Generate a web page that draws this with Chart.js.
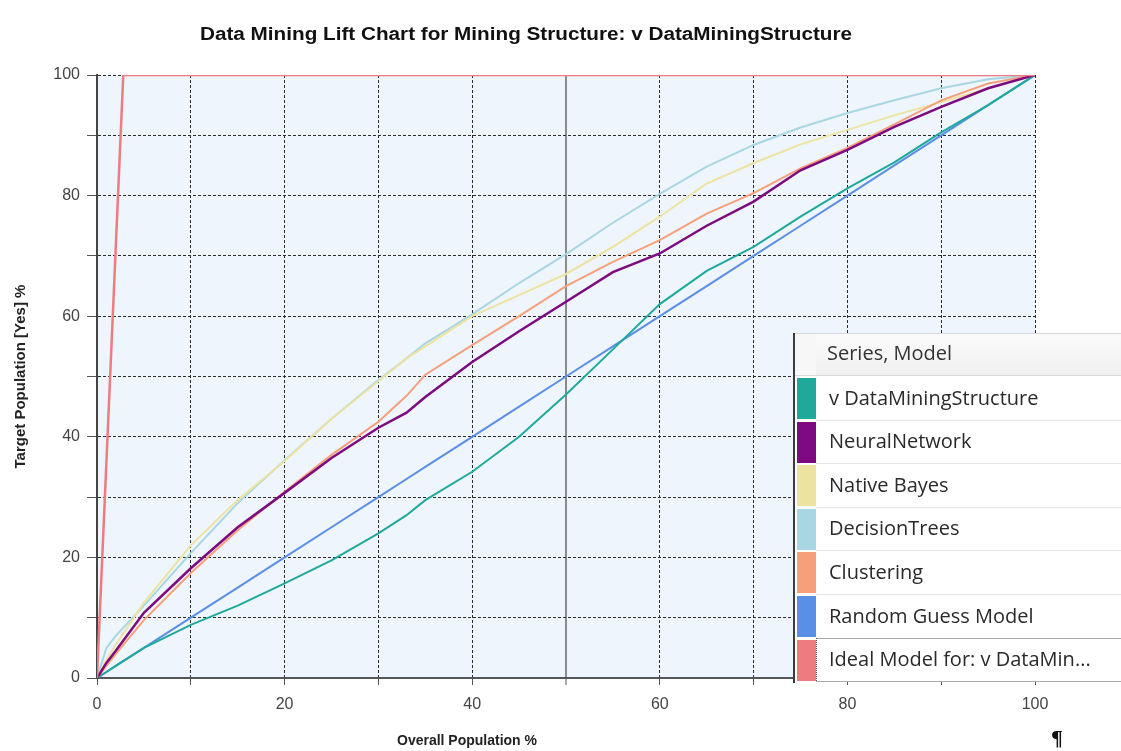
<!DOCTYPE html>
<html>
<head>
<meta charset="utf-8">
<script src="https://cdn.jsdelivr.net/npm/chart.js@4.4.1/dist/chart.umd.min.js"></script>
<style>
html,body{margin:0;padding:0;background:#fff;overflow:hidden}
#wrap{position:relative;width:1121px;height:751px}
canvas{display:block}
</style>
</head>
<body>
<div id="wrap"><canvas id="c" width="1121" height="751"></canvas></div>
<script>
const chartTitle = 'Data Mining Lift Chart for Mining Structure: v DataMiningStructure';
const xAxisTitle = 'Overall Population %';
const yAxisTitle = 'Target Population [Yes] %';
const legendHeader = 'Series, Model';
const pilcrow = '\u00B6';

const populationPct = [0,1,2,5,10,15,20,25,30,33,35,40,45,50,55,60,65,70,75,80,85,90,95,100];
const vDataMiningStructure = [0,1,2,5,8.8,12,15.7,19.5,24,27,29.5,34.2,40,47,54.5,62,67.5,71.5,76.5,81.2,85.5,90.5,95,100];
const neuralNetwork = [0,2.5,4.5,10.8,18.2,25,30.7,36.5,41.5,44,46.6,52.4,57.5,62.4,67.3,70.4,75,79,84.2,87.6,91.4,94.7,97.8,100];
const nativeBayes = [0,3,5.5,12.5,22,29.5,36,43,49.2,53,55,60,63.5,67,71.5,76.5,82,85.4,88.5,90.9,93.3,95.5,97.8,100];
const decisionTrees = [0,5,7,12,20.7,29,36.1,43,49.4,53,55.5,60.3,65.5,70.3,75.5,80.3,84.8,88.4,91.3,93.7,95.8,97.8,99.3,100];
const clustering = [0,2,4,9.6,17.4,24.5,30.9,37,42.5,46.8,50.3,55.2,60,65,69,72.6,77,80.4,84.5,87.9,91.8,95.8,98.6,100];
const randomGuess = [0,1,2,5,10,15,20,25,30,33,35,40,45,50,55,60,65,70,75,80,85,90,95,100];
const idealX = [0,2.8,100];
const idealY = [0,100,100];

const seriesLabels = ['v DataMiningStructure','NeuralNetwork','Native Bayes','DecisionTrees','Clustering','Random Guess Model','Ideal Model for: v DataMin...'];
const seriesColors = ['#1fa99b','#7d0a80','#ede3a0','#a9d6e3','#f5a07b','#5a8fe6','#ee7b7f'];

function pts(xs, ys){ return xs.map((x,i)=>({x:x,y:ys[i]})); }

const seriesData = [
  pts(populationPct, vDataMiningStructure),
  pts(populationPct, neuralNetwork),
  pts(populationPct, nativeBayes),
  pts(populationPct, decisionTrees),
  pts(populationPct, clustering),
  pts(populationPct, randomGuess),
  pts(idealX, idealY)
];
const drawOrder = [2,1,5,6,3,4,0];
const widths = [2,2.5,2,2,2,2,2.5];

const datasets = seriesLabels.map((lab,i)=>({
  label: lab,
  data: seriesData[i],
  borderColor: seriesColors[i],
  backgroundColor: seriesColors[i],
  borderWidth: widths[i],
  pointRadius: 0,
  tension: 0,
  fill: false,
  order: drawOrder[i]
}));

const gridDash = (ctx) => {
  if (ctx.type !== 'tick') return [];
  if (ctx.scale.axis === 'x' && ctx.tick && ctx.tick.value === 50) return [];
  return [3,2];
};

const bgPlugin = {
  id: 'plotBg',
  beforeDraw(chart){
    const {ctx, chartArea:a} = chart;
    ctx.save();
    ctx.fillStyle = '#eff5fd';
    ctx.fillRect(a.left, a.top, a.right-a.left, a.bottom-a.top);
    ctx.restore();
  }
};

function fitText(ctx, text, cx, cy, targetW){
  const w = ctx.measureText(text).width;
  const sx = targetW / w;
  ctx.save();
  ctx.translate(cx, cy);
  ctx.scale(sx, 1);
  ctx.fillText(text, 0, 0);
  ctx.restore();
}

const decorPlugin = {
  id: 'decor',
  afterDraw(chart){
    const ctx = chart.ctx;
    ctx.save();
    // title
    ctx.fillStyle = '#111';
    ctx.textAlign = 'center';
    ctx.textBaseline = 'middle';
    ctx.font = 'bold 18px "Liberation Sans", Arial, sans-serif';
    fitText(ctx, chartTitle, 526, 35, 652);
    // x axis title
    ctx.font = 'bold 14px "Liberation Sans", Arial, sans-serif';
    ctx.fillStyle = '#222';
    ctx.fillText(xAxisTitle, 467, 741);
    // pilcrow
    ctx.font = 'bold 22px "Liberation Serif", serif';
    ctx.fillStyle = '#111';
    ctx.fillText(pilcrow, 1057, 739);

    // legend panel
    const L = 793, T = 333, R = 1121, B = 682;
    ctx.fillStyle = '#ffffff';
    ctx.fillRect(L, T, R-L, B-T);
    const hdrB = 375;
    const g = ctx.createLinearGradient(0, T, 0, hdrB);
    g.addColorStop(0, '#fbfbfb');
    g.addColorStop(1, '#f0f0f0');
    ctx.fillStyle = g;
    ctx.fillRect(816, T, R-816, hdrB-T);
    ctx.fillStyle = '#f7f7f7';
    ctx.fillRect(L+1, T, 816-L-1, hdrB-T);
    ctx.strokeStyle = '#d8d8d8';
    ctx.lineWidth = 1;
    ctx.beginPath();
    ctx.moveTo(L, T+0.5); ctx.lineTo(R, T+0.5);
    ctx.moveTo(L, hdrB+0.5); ctx.lineTo(R, hdrB+0.5);
    ctx.stroke();
    ctx.textAlign = 'left';
    ctx.fillStyle = '#333';
    ctx.font = '20px "Open Sans", "Noto Sans", sans-serif';
    ctx.fillText(legendHeader, 827, 354);

    const rowTop = 377, rowH = 43.6;
    chart.data.datasets.forEach((ds, i) => {
      const top = rowTop + i*rowH;
      ctx.fillStyle = ds.borderColor;
      ctx.fillRect(797, Math.round(top)+1, 19, Math.round(rowH)-3);
      ctx.fillStyle = '#2a2a2a';
      ctx.font = '20px "Open Sans", "Noto Sans", sans-serif';
      ctx.fillText(ds.label, 829, top + rowH/2);
      if (i < chart.data.datasets.length-2) {
        ctx.strokeStyle = '#e4e4e4';
        ctx.beginPath();
        ctx.moveTo(816, Math.round(top+rowH)-0.5); ctx.lineTo(R, Math.round(top+rowH)-0.5);
        ctx.stroke();
      }
    });
    const lt = Math.round(rowTop + 6*rowH) - 1;
    ctx.strokeStyle = '#555';
    ctx.setLineDash([1,1]);
    ctx.beginPath();
    ctx.moveTo(816.5, lt+0.5); ctx.lineTo(R, lt+0.5);
    ctx.moveTo(816.5, lt); ctx.lineTo(816.5, B-0.5);
    ctx.moveTo(816.5, B-0.5); ctx.lineTo(R, B-0.5);
    ctx.stroke();
    ctx.setLineDash([]);
    ctx.strokeStyle = '#3c3c3c';
    ctx.lineWidth = 2;
    ctx.beginPath();
    ctx.moveTo(L+1, T); ctx.lineTo(L+1, B+1);
    ctx.stroke();
    ctx.restore();
  }
};

new Chart(document.getElementById('c'), {
  type: 'line',
  data: { datasets },
  plugins: [bgPlugin, decorPlugin],
  options: {
    responsive: false,
    animation: false,
    events: [],
    layout: { padding: { top: 75, right: 86, bottom: 0, left: 0 } },
    plugins: { legend: { display: false }, title: { display: false }, tooltip: { enabled: false } },
    scales: {
      x: {
        type: 'linear', min: 0, max: 100,
        afterFit(s){ s.height = 73; },
        ticks: {
          stepSize: 10, autoSkip: false, maxRotation: 0,
          callback: v => (v % 20 === 0 ? String(v) : ''),
          color: '#444', font: { size: 16, family: '"Liberation Sans", Arial, sans-serif' }, padding: 10
        },
        grid: {
          color: c => (c.tick && c.tick.value === 50 ? '#8a8a8a' : '#2b2b2b'),
          lineWidth: c => (c.tick && c.tick.value === 50 ? 2 : 1),
          tickColor: '#555', tickLength: 7, tickWidth: 1
        },
        border: { display: true, color: '#555', width: 2, dash: gridDash }
      },
      y: {
        type: 'linear', min: 0, max: 100,
        afterFit(s){ s.width = 97; },
        ticks: {
          stepSize: 10, autoSkip: false,
          callback: v => (v % 20 === 0 ? String(v) : ''),
          color: '#444', font: { size: 16, family: '"Liberation Sans", Arial, sans-serif' }, padding: 7
        },
        grid: {
          color: '#2b2b2b', lineWidth: 1,
          tickColor: '#555', tickLength: 10, tickWidth: 1
        },
        border: { display: true, color: '#444', width: 2, dash: gridDash },
        title: {
          display: true, text: yAxisTitle, color: '#222',
          font: { size: 15, weight: 'bold', family: '"Liberation Sans", Arial, sans-serif' },
          padding: { top: 12, bottom: 0 }
        }
      }
    }
  }
});
</script>
</body>
</html>
